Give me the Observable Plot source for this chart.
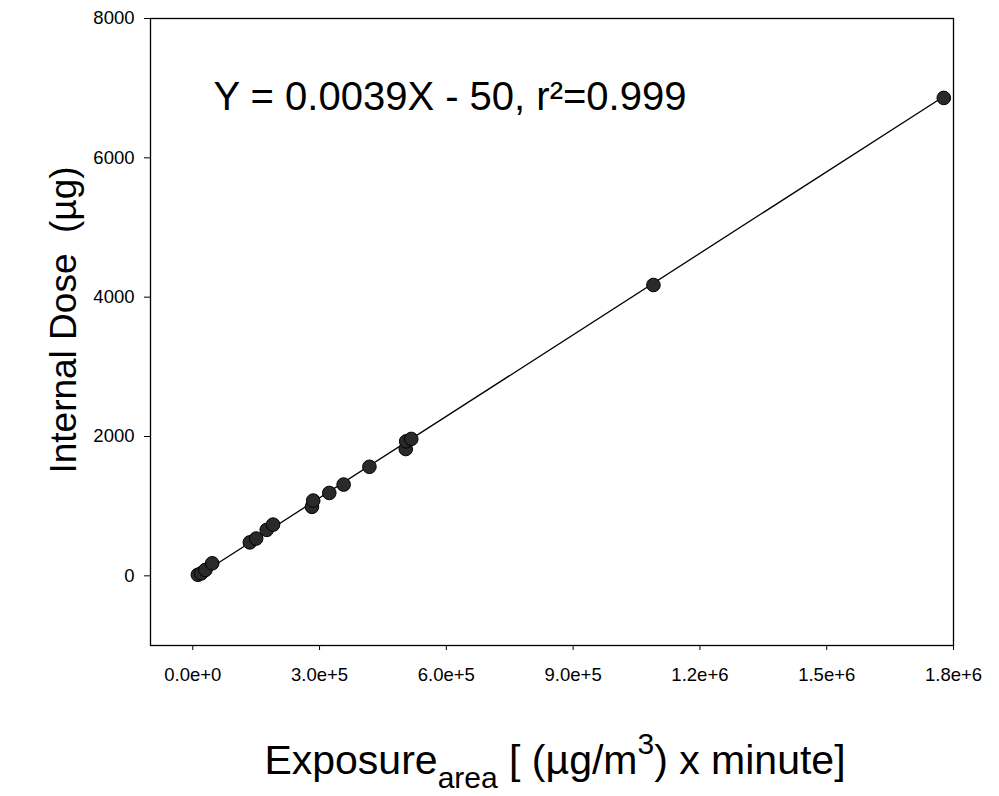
<!DOCTYPE html>
<html>
<head>
<meta charset="utf-8">
<script src="https://cdn.jsdelivr.net/npm/d3@7"></script>
<script src="https://cdn.jsdelivr.net/npm/@observablehq/plot@0.6"></script>
<style>
  body { margin: 0; background: #fff; }
  #chart svg { display: block; }
</style>
</head>
<body>
<div id="chart"></div>
<script>
// Exposure_area [(µg/m³) x minute]
const exposure = [12000, 20000, 30000, 46000, 135000, 150000, 175000, 190000, 282000, 285000, 323000, 357000, 418000, 504000, 505000, 517000, 1090000, 1777000];
// Internal dose (µg)
const dose     = [15, 35, 85, 180, 480, 535, 660, 735, 990, 1080, 1190, 1310, 1565, 1820, 1930, 1965, 4175, 6860];

// Regression reported on the chart
const fitSlope = 0.0039;
const fitIntercept = -50;
const fitText = "Y = 0.0039X - 50, r²=0.999";

const xTicks = [0, 3e5, 6e5, 9e5, 1.2e6, 1.5e6, 1.8e6];
const xTickLabels = ["0.0e+0", "3.0e+5", "6.0e+5", "9.0e+5", "1.2e+6", "1.5e+6", "1.8e+6"];
const yTicks = [0, 2000, 4000, 6000, 8000];
const yTickLabels = ["0", "2000", "4000", "6000", "8000"];

const points = exposure.map((x, i) => ({x, y: dose[i]}));
const fitLine = d3.extent(exposure).map(x => ({x, y: fitSlope * x + fitIntercept}));

const font = "'Liberation Sans', Arial, Helvetica, sans-serif";

const plot = Plot.plot({
  width: 999,
  height: 796,
  marginLeft: 150,
  marginRight: 46,
  marginTop: 18,
  marginBottom: 151,
  style: {fontFamily: font, fontSize: "18px", color: "#000", background: "#fff", overflow: "visible"},
  x: {domain: [-1e5, 1.8e6]},
  y: {domain: [-1000, 8000]},
  marks: [
    Plot.axisX({ticks: xTicks, tickFormat: d => xTickLabels[xTicks.indexOf(d)], tickSize: 5, tickPadding: 17, fontSize: 18.5, label: null, stroke: "#000"}),
    Plot.axisY({ticks: yTicks, tickFormat: d => yTickLabels[yTicks.indexOf(d)], tickSize: 6, tickPadding: 10, fontSize: 18.5, label: null, stroke: "#000"}),
    Plot.frame({stroke: "#000", strokeWidth: 1.3}),
    Plot.line(fitLine, {x: "x", y: "y", stroke: "#000", strokeWidth: 1.3}),
    Plot.dot(points, {x: "x", y: "y", r: 6.8, fill: "#2a2a2a", stroke: "#000", strokeWidth: 1}),
    Plot.text([fitText], {frameAnchor: "top-left", dx: 63, dy: 79, text: d => d, textAnchor: "start", lineAnchor: "middle", fontSize: 40, fill: "#000"})
  ]
});

document.getElementById("chart").appendChild(plot);

// Axis titles with sub/superscripts
const svg = d3.select(plot);
const xt = svg.append("text")
  .attr("x", 555).attr("y", 774)
  .attr("text-anchor", "middle")
  .attr("font-family", font).attr("font-size", 41).attr("fill", "#000");
xt.append("tspan").text("Exposure");
xt.append("tspan").attr("font-size", 30).attr("dy", 14).text("area");
xt.append("tspan").attr("dy", -14).text(" [ (µg/m");
xt.append("tspan").attr("font-size", 30).attr("dy", -20).text("3");
xt.append("tspan").attr("dy", 20).text(") x minute]");

svg.append("text")
  .attr("transform", "translate(76,320) rotate(-90)")
  .attr("text-anchor", "middle")
  .attr("font-family", font).attr("font-size", 37).attr("fill", "#000")
  .text("Internal Dose  (µg)");
</script>
</body>
</html>
